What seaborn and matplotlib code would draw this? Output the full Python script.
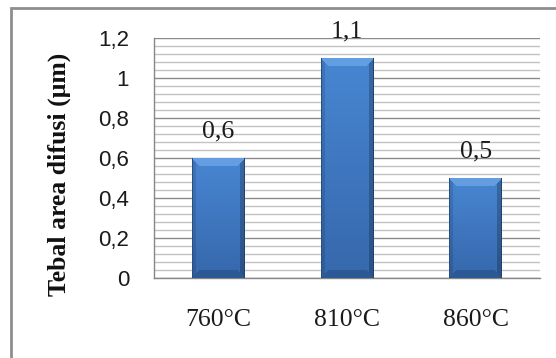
import numpy as np
import pandas as pd
import matplotlib
matplotlib.use("Agg")
import matplotlib.pyplot as plt
from matplotlib.ticker import MultipleLocator, FixedLocator, FixedFormatter
from matplotlib.patches import Rectangle
import seaborn as sns

# Diffusion layer thickness per annealing temperature
temperatures = ["760°C", "810°C", "860°C"]
thickness = [0.6, 1.1, 0.5]
value_labels = ["0,6", "1,1", "0,5"]
y_ticks = [0, 0.2, 0.4, 0.6, 0.8, 1.0, 1.2]
y_tick_labels = ["0", "0,2", "0,4", "0,6", "0,8", "1", "1,2"]
y_label = "Tebal area difusi (μm)"

sns.set_theme(style="white")
plt.rcParams["font.family"] = ["Liberation Sans", "DejaVu Sans"]

W, H = 556, 358
DPI = 100
fig = plt.figure(figsize=(W / DPI, H / DPI), dpi=DPI)
fig.patch.set_facecolor("white")

# chart-area frame
fig.patches.append(Rectangle((11 / W, -0.05), 1.2, 1 - 8 / H + 0.05,
                             transform=fig.transFigure, fill=False,
                             edgecolor="#8e8e8e", linewidth=2.0))

ax = fig.add_axes([154 / W, 1 - 278 / H, (540 - 154) / W, (278 - 38) / H])
ax.set_facecolor("none")

df = pd.DataFrame({"suhu": temperatures, "tebal": thickness})
sns.barplot(data=df, x="suhu", y="tebal", ax=ax, width=0.41,
            color="#3f78c4", saturation=1, edgecolor="none", zorder=3)

ax.set_ylim(0, 1.2)
ax.set_xlim(-0.5, len(temperatures) - 0.5)

# grid: major every 0.2, minor every 0.04
ax.yaxis.set_major_locator(FixedLocator(y_ticks))
ax.yaxis.set_major_formatter(FixedFormatter(y_tick_labels))
ax.yaxis.set_minor_locator(MultipleLocator(0.04))
ax.grid(True, which="major", axis="y", color="#8a8a8a", linewidth=1.0, zorder=0)
ax.grid(True, which="minor", axis="y", color="#c2c2c2", linewidth=1.0, zorder=0)
ax.grid(False, axis="x")
ax.set_axisbelow(True)

for side in ("top", "right"):
    ax.spines[side].set_visible(False)
for side in ("left", "bottom"):
    ax.spines[side].set_color("#868686")
    ax.spines[side].set_linewidth(1.0)

# x ticks sit at category boundaries, labels centred under bars
ax.set_xticks([i for i in range(len(temperatures))])
ax.set_xticklabels(temperatures, fontfamily=["Liberation Serif"], fontsize=18.5,
                   color="#1a1a1a")
ax.xaxis.set_minor_locator(FixedLocator([i - 0.5 for i in range(len(temperatures) + 1)]))
ax.tick_params(axis="x", which="major", length=0, pad=22)
ax.tick_params(axis="x", which="minor", length=6, width=1.0, color="#868686", direction="out")
ax.tick_params(axis="y", which="major", length=6, width=1.0, color="#868686",
               direction="out", pad=12)
ax.tick_params(axis="y", which="minor", length=0)
for lab in ax.get_yticklabels():
    lab.set_fontsize(16)
    lab.set_color("#1a1a1a")
ax.set_xlabel("")
ax.set_ylabel("")

fig.text(59 / W, 1 - 174 / H, y_label, rotation=90, ha="center", va="center",
         fontfamily=["Liberation Serif"], fontweight="bold", fontsize=18.5,
         color="#111111")

# beveled gradient fill for each bar
fig.canvas.draw()
to_px = ax.transData
for patch in list(ax.patches):
    x0, y0 = patch.get_x(), patch.get_y()
    w, h = patch.get_width(), patch.get_height()
    (px0, py0) = to_px.transform((x0, y0))
    (px1, py1) = to_px.transform((x0 + w, y0 + h))
    wpx = max(int(round(px1 - px0)), 2)
    hpx = max(int(round(py1 - py0)), 2)
    t = np.linspace(0, 1, hpx)[:, None]
    top_c = np.array([72, 134, 210]) / 255
    bot_c = np.array([54, 104, 172]) / 255
    img = np.repeat((top_c * (1 - t) + bot_c * t)[:, None, :], wpx, axis=1)
    img = img.reshape(hpx, wpx, 3)
    rows = np.arange(hpx)[:, None]
    cols = np.arange(wpx)[None, :]
    bev = 8
    top_mask = (rows < bev) & (rows <= cols) & (rows <= wpx - 1 - cols)
    bot_mask = (hpx - 1 - rows < bev) & (hpx - 1 - rows <= cols) & (hpx - 1 - rows <= wpx - 1 - cols)
    left_mask = (cols < 4) & ~top_mask & ~bot_mask
    right_mask = (wpx - 1 - cols < 5) & ~top_mask & ~bot_mask
    img[top_mask] = np.array([100, 158, 226]) / 255
    img[bot_mask] = np.array([45, 88, 150]) / 255
    img[left_mask] = img[left_mask] * 0.88
    img[right_mask] = img[right_mask] * 0.78
    img[:, :1] = np.array([40, 78, 132]) / 255
    img[:, -1:] = np.array([34, 66, 112]) / 255
    ax.imshow(img, extent=[x0, x0 + w, y0, y0 + h], aspect="auto",
              origin="upper", zorder=4, interpolation="bilinear")

ax.set_xlim(-0.5, len(temperatures) - 0.5)
ax.set_ylim(0, 1.2)

# value labels above bars
for i, (v, lab) in enumerate(zip(thickness, value_labels)):
    ax.annotate(lab, xy=(i, v), xytext=(0, 19), textcoords="offset points",
                ha="center", va="center", fontfamily=["Liberation Serif"],
                fontsize=18.5, color="#1a1a1a", zorder=6, annotation_clip=False)

fig.savefig("out.png", dpi=DPI, facecolor="white")
